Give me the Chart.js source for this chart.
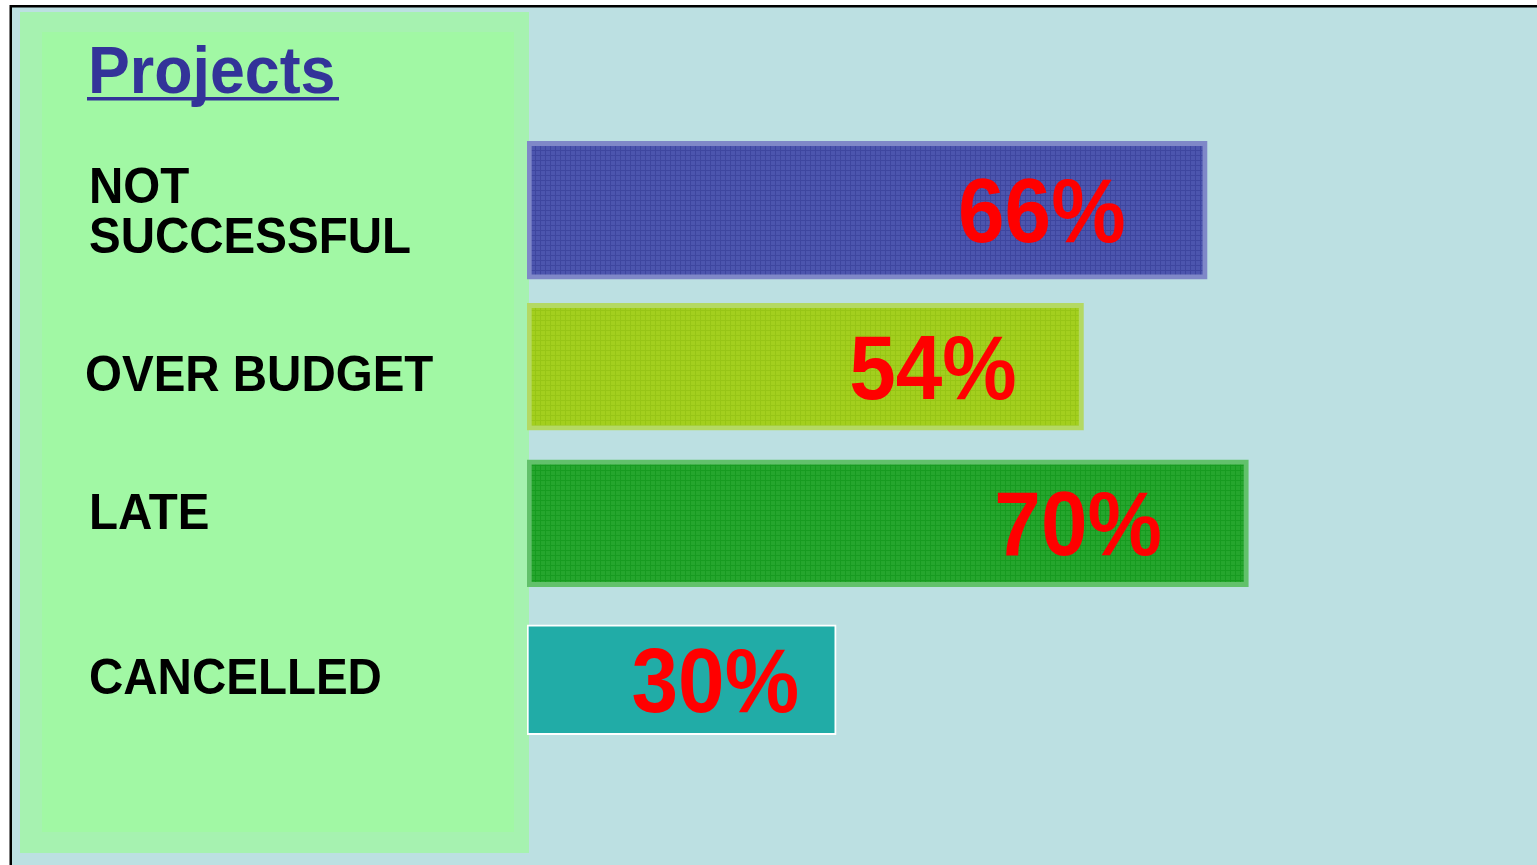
<!DOCTYPE html>
<html><head><meta charset="utf-8">
<script src="https://cdn.jsdelivr.net/npm/chart.js@4/dist/chart.umd.min.js"></script>
<style>html,body{margin:0;padding:0;background:#fff;overflow:hidden}#wrap{width:1537px;height:865px;position:relative}</style>
</head><body><div id="wrap"><canvas id="c" width="1537" height="865"></canvas></div>
<script>
const titleText = 'Projects';
const categories = [['NOT', 'SUCCESSFUL'], 'OVER BUDGET', 'LATE', 'CANCELLED'];
const values = [66, 54, 70, 30];
const valueLabels = ['66%', '54%', '70%', '30%'];

const FONT = '"Liberation Sans", Arial, Helvetica, sans-serif';

function makePattern(base, line) {
  const c = document.createElement('canvas');
  c.width = 5; c.height = 5;
  const g = c.getContext('2d');
  g.fillStyle = base; g.fillRect(0, 0, 5, 5);
  g.fillStyle = line; g.fillRect(0, 0, 5, 1); g.fillRect(0, 0, 1, 5);
  return g.createPattern(c, 'repeat');
}

const fills = [
  makePattern('#4C55AE', '#3E469F'),
  makePattern('#A3CF1E', '#97C516'),
  makePattern('#25A62D', '#179B20'),
  '#21ACA7'
];
const edges = ['#7F88C8', '#B4D963', '#62C16B', '#FFFFFF'];
const edgeWidths = [5, 5, 5, 2];
const thickness = [138, 127, 127, 110];
const labelShift = [0, 6, -12, -4];

const datasets = values.map((v, i) => ({
  data: values.map((w, j) => (j === i ? w : null)),
  backgroundColor: fills[i],
  borderColor: edges[i],
  borderWidth: edgeWidths[i],
  borderSkipped: false,
  barThickness: thickness[i],
  grouped: false
}));

const decor = {
  id: 'decor',
  beforeDraw(chart) {
    const ctx = chart.ctx;
    ctx.save();
    ctx.fillStyle = '#FFFFFF'; ctx.fillRect(0, 0, 1537, 865);
    ctx.fillStyle = '#BCE0E2'; ctx.fillRect(10, 5, 1527, 860);
    ctx.fillStyle = '#000000';
    ctx.fillRect(10, 5, 1527, 2.5);
    ctx.fillRect(9.5, 5, 2.5, 860);
    // green panel
    ctx.fillStyle = '#A6F2B0'; ctx.fillRect(20, 12, 509, 841);
    ctx.fillStyle = '#A1F8A4'; ctx.fillRect(42, 32, 472, 800);
    // title
    ctx.fillStyle = '#333399';
    ctx.font = 'bold 66px ' + FONT;
    ctx.textBaseline = 'alphabetic';
    ctx.textAlign = 'left';
    ctx.translate(88, 93);
    ctx.scale(0.95, 1);
    ctx.fillText(titleText, 0, 0);
    ctx.restore();
    ctx.save();
    ctx.fillStyle = '#333399';
    ctx.fillRect(87, 97, 252, 3.5);
    ctx.restore();
  },
  afterDatasetsDraw(chart) {
    const ctx = chart.ctx;
    const yScale = chart.scales.y;
    ctx.save();
    // category labels
    ctx.fillStyle = '#000000';
    ctx.font = 'bold 50px ' + FONT;
    ctx.textAlign = 'left';
    ctx.textBaseline = 'alphabetic';
    const lh = 50, cap = 0.716 * 50;
    categories.forEach((lab, i) => {
      const lines = Array.isArray(lab) ? lab : [lab];
      const cy = yScale.getPixelForTick(i) + labelShift[i];
      const first = cy - (lines.length - 1) * lh / 2 + cap / 2;
      lines.forEach((t, k) => {
        ctx.save();
        ctx.translate(i === 1 ? 85 : 89, first + k * lh);
        ctx.scale(0.95, 1);
        ctx.fillText(t, 0, 0);
        ctx.restore();
      });
    });
    // value labels
    ctx.fillStyle = '#FF0000';
    ctx.font = 'bold 90px ' + FONT;
    ctx.textAlign = 'right';
    values.forEach((v, i) => {
      const el = chart.getDatasetMeta(i).data[i];
      const right = el.base + 0.88 * (el.x - el.base);
      ctx.save();
      ctx.translate(right, el.y + 0.716 * 90 / 2);
      ctx.scale(0.93, 1);
      ctx.fillText(valueLabels[i], 0, 0);
      ctx.restore();
    });
    ctx.restore();
  }
};

new Chart(document.getElementById('c'), {
  type: 'bar',
  data: { labels: categories, datasets },
  options: {
    indexAxis: 'y',
    responsive: false,
    devicePixelRatio: 1,
    animation: false,
    layout: { padding: { left: 527, right: 0, top: 132, bottom: 107 } },
    plugins: { legend: { display: false }, tooltip: { enabled: false }, title: { display: false } },
    scales: {
      x: { type: 'linear', min: 0, max: 98, display: false },
      y: { type: 'category', display: false, offset: true }
    }
  },
  plugins: [decor]
});
</script>
</body></html>
